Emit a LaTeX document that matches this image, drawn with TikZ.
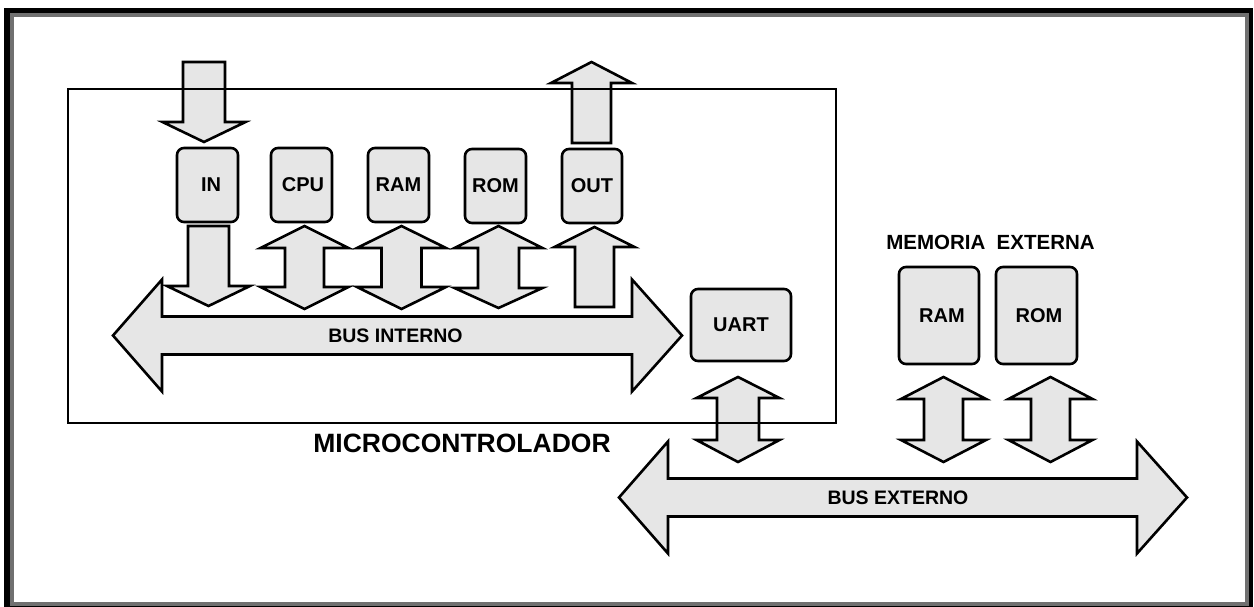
\documentclass[tikz,border=0pt]{standalone}
\usepackage{fontspec}
\setmainfont{Liberation Sans}
\definecolor{boxgray}{HTML}{E6E6E6}
\definecolor{framegray}{HTML}{707070}
\newcommand\vdblarrow[7]{% cx,t,b1,b2,t2,s,h
 \draw[blk] ({#1},{#2}) -- ({#1+#7},{#3}) -- ({#1+#6},{#3}) -- ({#1+#6},{#4}) -- ({#1+#7},{#4}) -- ({#1},{#5}) -- ({#1-#7},{#4}) -- ({#1-#6},{#4}) -- ({#1-#6},{#3}) -- ({#1-#7},{#3}) -- cycle;}
\newcommand\hdblarrow[7]{% cy,ltip,lbase,rbase,rtip,s,h
 \draw[blk] ({#2},{#1}) -- ({#3},{#1-#7}) -- ({#3},{#1-#6}) -- ({#4},{#1-#6}) -- ({#4},{#1-#7}) -- ({#5},{#1}) -- ({#4},{#1+#7}) -- ({#4},{#1+#6}) -- ({#3},{#1+#6}) -- ({#3},{#1+#7}) -- cycle;}
\newcommand\vsglarrow[6]{% cx,start,base,tip,s,h
 \draw[blk] ({#1-#5},{#2}) -- ({#1+#5},{#2}) -- ({#1+#5},{#3}) -- ({#1+#6},{#3}) -- ({#1},{#4}) -- ({#1-#6},{#3}) -- ({#1-#5},{#3}) -- cycle;}
\begin{document}
\begin{tikzpicture}[x=1pt,y=-1pt,
  blk/.style={draw=black, line width=2.6pt, fill=boxgray, line join=miter},
  unit/.style={draw=black, line width=2.6pt, fill=boxgray, rounded corners=7pt, inner sep=0pt,
    font=\fontsize{20}{24}\selectfont\bfseries},
  lbl/.style={inner sep=0pt, font=\fontsize{19.5}{23}\selectfont\bfseries}]
\useasboundingbox (0,0) rectangle (1254,607);
% outer frame
\fill[black] (4,8) rectangle (1253,607);
\fill[framegray] (10,13) rectangle (1249,606);
\fill[white] (14,17) rectangle (1245,602);

% block arrows inside the microcontroller
\vsglarrow{204}{62}{122}{142}{21}{41.5}
\vsglarrow{208.5}{226}{286}{306}{20.5}{41.5}
\vdblarrow{304.5}{226}{248}{287}{309}{19.5}{44}
\vdblarrow{401.5}{226}{248}{287}{309}{20}{44.5}
\vdblarrow{498.5}{226}{248}{288}{308}{20.5}{44}
\vsglarrow{594.5}{307}{247}{227}{19.5}{40}
\vsglarrow{591.5}{143}{83}{62}{19.5}{40.5}
\hdblarrow{335.5}{113}{162}{632}{682}{19}{56}
% external arrows
\vdblarrow{738}{377}{398}{440}{462}{21}{41.5}
\vdblarrow{943.5}{377}{399}{440}{462}{19.5}{42.5}
\vdblarrow{1050.5}{377}{399}{440}{462}{19.5}{42}
\hdblarrow{497.5}{619}{668}{1137}{1187}{19}{56}

% units
\node[unit, minimum width=61pt, minimum height=74pt] (in) at (207.5,185) {\hspace*{7pt}IN};
\node[unit, minimum width=61pt, minimum height=74pt] (cpu) at (301.5,185) {\hspace*{3pt}CPU};
\node[unit, minimum width=61pt, minimum height=74pt] (ram) at (398.5,185) {RAM};
\node[unit, minimum width=61pt, minimum height=74pt] (rom) at (495.5,186) {ROM};
\node[unit, minimum width=60pt, minimum height=74pt] (out) at (592,186) {OUT};
\node[unit, minimum width=100pt, minimum height=72pt] (uart) at (741,325) {UART};
\node[unit, minimum width=80pt, minimum height=97pt] (xram) at (939,315.5) {\hspace*{6pt}RAM};
\node[unit, minimum width=81pt, minimum height=97pt] (xrom) at (1036.5,315.5) {\hspace*{5pt}ROM};

% labels
\node[lbl] (busint) at (395.5,336) {BUS INTERNO};
\node[lbl] (busext) at (898,497.5) {BUS EXTERNO};
\node[lbl, font=\fontsize{20.5}{24}\selectfont\bfseries] (mem) at (990.5,242) {MEMORIA\hspace{0.55em}EXTERNA};
\node[inner sep=0pt, font=\fontsize{26.5}{30}\selectfont\bfseries] (mcu) at (462,443) {MICROCONTROLADOR};

% microcontroller outline drawn on top
\draw[line width=2.6pt] (68,89) rectangle (836,423);
\end{tikzpicture}
\end{document}
